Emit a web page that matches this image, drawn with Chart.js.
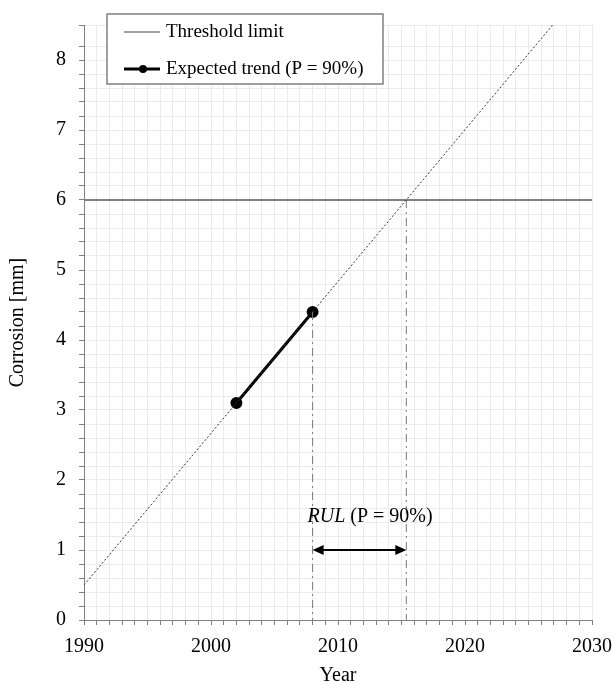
<!DOCTYPE html>
<html><head><meta charset="utf-8">
<script src="https://cdn.jsdelivr.net/npm/chart.js@4"></script>
<style>html,body{margin:0;padding:0;background:#fff}#wrap{width:615px;height:684px;position:relative}</style>
</head><body><div id="wrap"><canvas id="c" width="615" height="684"></canvas></div>
<script>
// ---- data ----
const thresholdYears = [1990, 2030];
const thresholdValues = [6, 6];
const trendYears = [2002, 2008];
const trendValues = [3.1, 4.4];
const projYears = [1990, 2026.9];
const projValues = [0.5, 8.5];
const rulYears = [2008, 2015.38];
const rulTopValues = [4.4, 6];
const arrowValue = 1;
const rulLabelYear = 2007.6;
const rulLabelValue = 1.48;
const xTickLabels = [1990, 2000, 2010, 2020, 2030];
const yTickLabels = [0, 1, 2, 3, 4, 5, 6, 7, 8];

const FONT = "'Liberation Serif', 'Times New Roman', serif";
const pts = (xs, ys) => xs.map((x, i) => ({x: x, y: ys[i]}));

const overlay = {
  id: 'overlay',
  afterDatasetsDraw(chart) {
    const ctx = chart.ctx;
    const xs = chart.scales.x, ys = chart.scales.y;
    // RUL double arrow
    const x1 = xs.getPixelForValue(rulYears[0]);
    const x2 = xs.getPixelForValue(rulYears[1]);
    const ay = ys.getPixelForValue(arrowValue);
    ctx.save();
    ctx.strokeStyle = '#000'; ctx.fillStyle = '#000'; ctx.lineWidth = 2;
    ctx.beginPath(); ctx.moveTo(x1 + 6, ay); ctx.lineTo(x2 - 6, ay); ctx.stroke();
    ctx.beginPath(); ctx.moveTo(x1, ay); ctx.lineTo(x1 + 11, ay - 5); ctx.lineTo(x1 + 11, ay + 5); ctx.closePath(); ctx.fill();
    ctx.beginPath(); ctx.moveTo(x2, ay); ctx.lineTo(x2 - 11, ay - 5); ctx.lineTo(x2 - 11, ay + 5); ctx.closePath(); ctx.fill();
    // RUL label
    const lx = xs.getPixelForValue(rulLabelYear);
    const ly = ys.getPixelForValue(rulLabelValue);
    ctx.textBaseline = 'middle'; ctx.textAlign = 'left';
    ctx.font = 'italic 20px ' + FONT;
    ctx.fillText('RUL', lx, ly);
    const w = ctx.measureText('RUL').width;
    ctx.font = '20px ' + FONT;
    ctx.fillText(' (P = 90%)', lx + w, ly);
    // legend box
    const bx = 107, by = 14, bw = 276, bh = 70;
    ctx.fillStyle = '#fff';
    ctx.fillRect(bx, by, bw, bh);
    ctx.strokeStyle = '#808080'; ctx.lineWidth = 1.5;
    ctx.strokeRect(bx, by, bw, bh);
    // entry 1
    ctx.strokeStyle = '#808080'; ctx.lineWidth = 1.5;
    ctx.beginPath(); ctx.moveTo(124, 32); ctx.lineTo(160, 32); ctx.stroke();
    ctx.fillStyle = '#000'; ctx.font = '19px ' + FONT;
    ctx.fillText('Threshold limit', 166, 32);
    // entry 2
    ctx.strokeStyle = '#000'; ctx.lineWidth = 3;
    ctx.beginPath(); ctx.moveTo(124, 69); ctx.lineTo(160, 69); ctx.stroke();
    ctx.beginPath(); ctx.arc(143, 69, 4, 0, Math.PI * 2); ctx.fill();
    ctx.fillText('Expected trend (P = 90%)', 166, 69);
    ctx.restore();
  }
};

new Chart(document.getElementById('c'), {
  type: 'scatter',
  data: {
    datasets: [
      {label: 'proj', data: pts(projYears, projValues), showLine: true, borderColor: '#333', borderWidth: 1, borderDash: [2, 2], pointRadius: 0},
      {label: 'rul1', data: pts([rulYears[0], rulYears[0]], [rulTopValues[0], 0]), showLine: true, borderColor: '#7a7a7a', borderWidth: 1, borderDash: [8, 4, 2, 4], pointRadius: 0},
      {label: 'rul2', data: pts([rulYears[1], rulYears[1]], [rulTopValues[1], 0]), showLine: true, borderColor: '#7a7a7a', borderWidth: 1, borderDash: [8, 4, 2, 4], pointRadius: 0},
      {label: 'Threshold limit', data: pts(thresholdYears, thresholdValues), showLine: true, borderColor: '#808080', borderWidth: 2, pointRadius: 0},
      {label: 'Expected trend (P = 90%)', data: pts(trendYears, trendValues), showLine: true, borderColor: '#000', backgroundColor: '#000', borderWidth: 3, pointRadius: 4.5, pointBackgroundColor: '#000', pointBorderColor: '#000'}
    ]
  },
  options: {
    responsive: false, animation: false,
    layout: {padding: {left: 0, right: 23, top: 25, bottom: 0}},
    plugins: {legend: {display: false}, tooltip: {enabled: false}},
    scales: {
      x: {
        type: 'linear', min: 1990, max: 2030,
        afterFit(s) { s.height = 64; s.paddingRight = 0; s.paddingLeft = 0; },
        border: {color: '#808080', width: 1},
        grid: {color: '#ebebeb', lineWidth: 1, tickColor: '#808080', tickLength: 5},
        ticks: {stepSize: 1, autoSkip: false, maxRotation: 0, padding: 10, color: '#000',
          font: {family: FONT, size: 20},
          callback: v => xTickLabels.includes(Math.round(v)) && Math.abs(v - Math.round(v)) < 1e-6 ? String(Math.round(v)) : ''},
        title: {display: true, text: 'Year', color: '#000', font: {family: FONT, size: 20, lineHeight: 0.8}, padding: {top: 0, bottom: 0}}
      },
      y: {
        type: 'linear', min: 0, max: 8.5,
        afterFit(s) { s.width = 84; },
        border: {color: '#808080', width: 1},
        grid: {color: '#ebebeb', lineWidth: 1, tickColor: '#808080', tickLength: 5},
        ticks: {stepSize: 0.2, autoSkip: false, padding: 13, color: '#000',
          font: {family: FONT, size: 20},
          callback: v => (Math.abs(v - Math.round(v)) < 1e-6 && yTickLabels.includes(Math.round(v))) ? String(Math.round(v)) : ''},
        title: {display: true, text: 'Corrosion [mm]', color: '#000', font: {family: FONT, size: 20, lineHeight: 1.2}, padding: {top: 6, bottom: 0}}
      }
    }
  },
  plugins: [overlay]
});
</script></body></html>
